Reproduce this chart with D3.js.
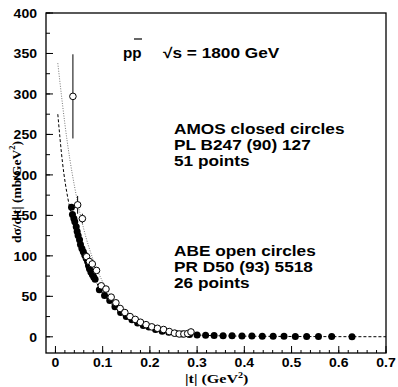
<!DOCTYPE html>
<html>
<head>
<meta charset="utf-8">
<script src="https://cdn.jsdelivr.net/npm/d3@7"></script>
<style>
  body { margin: 0; background: #fff; }
  svg { display: block; }
  .lbl { font-family: "Liberation Sans", Arial, sans-serif; font-weight: bold; font-size: 13px; }
  .note { font-family: "Liberation Sans", Arial, sans-serif; font-weight: bold; font-size: 14.5px; }
  .ttl { font-family: "Liberation Serif", "Times New Roman", serif; font-weight: bold; font-size: 13.5px; }
</style>
</head>
<body>
<svg id="board" width="398" height="387"></svg>
<script>
// AMOS (closed circles): |t|, dsigma/dt
const amosT = [0.034, 0.036, 0.039, 0.041, 0.044, 0.046, 0.048, 0.051, 0.053, 0.056,
               0.059, 0.062, 0.065, 0.068, 0.070, 0.072, 0.075, 0.078, 0.081, 0.084,
               0.093, 0.104, 0.115, 0.126, 0.138, 0.150, 0.162, 0.174, 0.186, 0.198,
               0.212, 0.226, 0.240, 0.254, 0.268, 0.284,
               0.300, 0.318, 0.336, 0.355, 0.374, 0.395, 0.416, 0.438, 0.461, 0.484,
               0.508, 0.532, 0.557, 0.585, 0.628];
const amosY = [160, 151, 146, 142, 136, 130, 125, 120, 114, 109,
               105, 101, 97, 93, 88, 84, 80, 77, 74, 71,
               58, 51, 45, 37, 30, 25, 21, 17, 14, 12,
               9, 7, 5.5, 4.5, 3.5, 3,
               2.2, 1.9, 1.6, 1.4, 1.2, 1.0, 0.9, 0.8, 0.7, 0.6,
               0.5, 0.4, 0.4, 0.3, 0.2];

// ABE (open circles): |t|, dsigma/dt, error
const abeT = [0.037, 0.047, 0.057, 0.066, 0.072, 0.078, 0.087, 0.097, 0.107, 0.118,
              0.128, 0.137, 0.147, 0.158, 0.169, 0.180, 0.192, 0.204, 0.216, 0.229,
              0.241, 0.252, 0.262, 0.272, 0.280, 0.287];
const abeY = [297, 163, 146, 99, 93, 90, 82, 63, 59, 49,
              42, 35, 30, 25, 21.5, 18, 15, 12.3, 10.5, 9,
              6.5, 4.5, 3.5, 3.5, 4, 6];
const abeErr = [52, 11, 6, 3, 0, 0, 0, 0, 0, 0,
                0, 0, 0, 0, 0, 0, 0, 0, 0, 0,
                0, 0, 0, 0, 0, 0];

// fit curves
const fitAmosT = [0.005, 0.015, 0.027, 0.04, 0.06, 0.08, 0.1, 0.125, 0.15, 0.175,
                  0.2, 0.25, 0.3, 0.35, 0.4, 0.5, 0.6, 0.7];
const fitAmosY = [275, 215, 169, 140, 103, 75, 54, 37, 25, 17,
                  11.5, 5, 2.3, 1.2, 0.8, 0.4, 0.2, 0.1];
const fitAbeT = [0.005, 0.025, 0.046, 0.06, 0.08, 0.1, 0.12, 0.15, 0.2, 0.25, 0.29];
const fitAbeY = [338, 241, 169, 133, 95, 68, 48, 29, 12, 5, 2.5];

const xTicks = [0, 0.1, 0.2, 0.3, 0.4, 0.5, 0.6, 0.7];
const yTicks = [0, 50, 100, 150, 200, 250, 300, 350, 400];

const svg = d3.select("#board");
const frameLeft = 46, frameRight = 386, frameTop = 13, frameBottom = 353;
const stretch = 1.19; // lettering is a bit wide

const x = d3.scaleLinear().domain([-0.02, 0.7]).range([frameLeft, frameRight]);
const y = d3.scaleLinear().domain([-20, 400]).range([frameBottom, frameTop]);

// frame
svg.append("rect")
    .attr("x", frameLeft).attr("y", frameTop)
    .attr("width", frameRight - frameLeft).attr("height", frameBottom - frameTop)
    .attr("fill", "none").attr("stroke", "black").attr("stroke-width", 1.3);

// x ticks (inward)
const xMinor = d3.range(0, 0.701, 0.02);
svg.selectAll("line.xminor").data(xMinor).join("line")
    .attr("class", "xminor")
    .attr("x1", d => x(d)).attr("x2", d => x(d))
    .attr("y1", frameBottom).attr("y2", frameBottom - 3)
    .attr("stroke", "black");
svg.selectAll("line.xmajor").data(xTicks).join("line")
    .attr("class", "xmajor")
    .attr("x1", d => x(d)).attr("x2", d => x(d))
    .attr("y1", frameBottom).attr("y2", frameBottom - 7)
    .attr("stroke", "black");
svg.selectAll("text.xlab").data(xTicks).join("text")
    .attr("class", "xlab lbl")
    .attr("transform", d => `translate(${x(d)},367) scale(1.08,1)`)
    .attr("text-anchor", "middle")
    .text(d => d === 0 ? "0" : d3.format(".1f")(d));

// y ticks (inward)
const yMinor = d3.range(0, 401, 25);
svg.selectAll("line.yminor").data(yMinor).join("line")
    .attr("class", "yminor")
    .attr("x1", frameLeft).attr("x2", frameLeft + 4)
    .attr("y1", d => y(d)).attr("y2", d => y(d))
    .attr("stroke", "black");
svg.selectAll("line.ymajor").data(yTicks).join("line")
    .attr("class", "ymajor")
    .attr("x1", frameLeft).attr("x2", frameLeft + 7)
    .attr("y1", d => y(d)).attr("y2", d => y(d))
    .attr("stroke", "black");
svg.selectAll("text.ylab").data(yTicks).join("text")
    .attr("class", "ylab lbl")
    .attr("transform", d => `translate(37,${y(d) + 5}) scale(1.08,1)`)
    .attr("text-anchor", "end")
    .text(d => d);

// axis titles
const xt = svg.append("text").attr("class", "ttl")
    .attr("transform", `translate(185,383) scale(${stretch},1)`);
xt.append("tspan").text("|t| (GeV");
xt.append("tspan").attr("font-size", 8.5).attr("dy", -5).text("2");
xt.append("tspan").attr("dy", 5).text(")");

const yt = svg.append("text").attr("class", "ttl")
    .attr("font-size", 12.5)
    .attr("transform", "translate(21,243) rotate(-90)");
yt.append("tspan").text("dσ/d|t| (mb/GeV");
yt.append("tspan").attr("font-size", 8.5).attr("dy", -6).text("2");
yt.append("tspan").attr("dy", 6).text(")");

// fit curves
const line = d3.line().x(d => x(d[0])).y(d => y(d[1])).curve(d3.curveMonotoneX);
svg.append("path")
    .datum(fitAbeT.map((t, i) => [t, fitAbeY[i]]))
    .attr("d", line)
    .attr("fill", "none").attr("stroke", "#777").attr("stroke-width", 1)
    .attr("stroke-dasharray", "1,1.5");
svg.append("path")
    .datum(fitAmosT.map((t, i) => [t, fitAmosY[i]]))
    .attr("d", line)
    .attr("fill", "none").attr("stroke", "black").attr("stroke-width", 1)
    .attr("stroke-dasharray", "3,2");

// ABE error bars
const abe = abeT.map((t, i) => ({ t: t, v: abeY[i], e: abeErr[i] }));
svg.selectAll("line.err").data(abe.filter(d => d.e > 0)).join("line")
    .attr("class", "err")
    .attr("x1", d => x(d.t)).attr("x2", d => x(d.t))
    .attr("y1", d => y(d.v + d.e)).attr("y2", d => y(d.v - d.e))
    .attr("stroke", "black").attr("stroke-width", 1);

// AMOS closed circles
svg.selectAll("circle.amos").data(amosT.map((t, i) => [t, amosY[i]])).join("circle")
    .attr("class", "amos")
    .attr("cx", d => x(d[0])).attr("cy", d => y(d[1]))
    .attr("r", 3.5).attr("fill", "black");

// ABE open circles
svg.selectAll("circle.abe").data(abe).join("circle")
    .attr("class", "abe")
    .attr("cx", d => x(d.t)).attr("cy", d => y(d.v))
    .attr("r", 3.3).attr("fill", "white").attr("stroke", "black").attr("stroke-width", 1);

// annotations
function note(txt, px, py, sx) {
    return svg.append("text").attr("class", "note")
        .attr("transform", `translate(${px},${py}) scale(${sx || stretch},1)`)
        .text(txt);
}
note("pp", 123, 58, 1.05);
svg.append("line")
    .attr("x1", 134).attr("x2", 142).attr("y1", 39).attr("y2", 39)
    .attr("stroke", "black").attr("stroke-width", 1.2);
note("√s = 1800 GeV", 163, 58);

const amosNote = ["AMOS closed circles", "PL B247 (90) 127", "51 points"];
amosNote.forEach((d, i) => note(d, 174, 134 + i * 16));

const abeNote = ["ABE open circles", "PR D50 (93) 5518", "26 points"];
abeNote.forEach((d, i) => note(d, 174, 256 + i * 16));
</script>
</body>
</html>
